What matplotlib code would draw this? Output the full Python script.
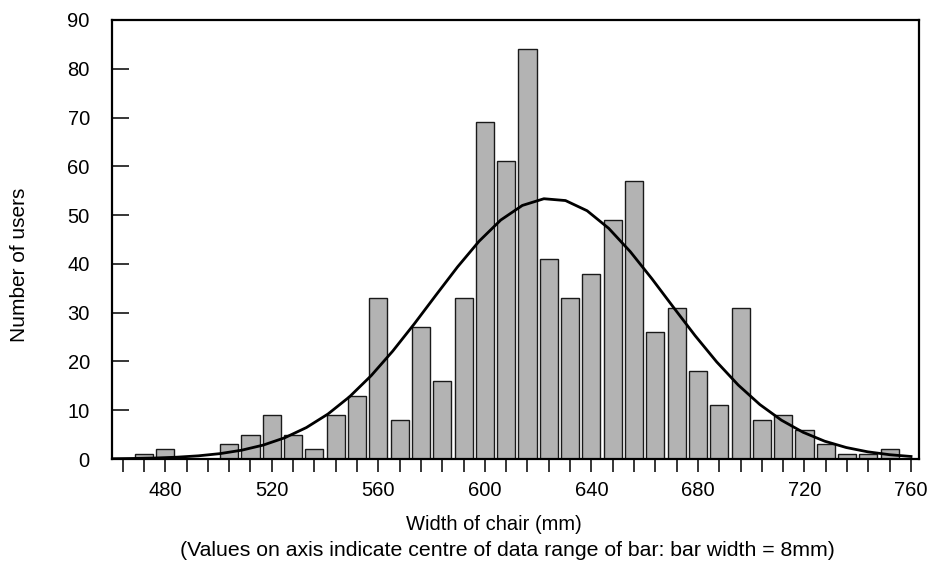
import numpy as np
import matplotlib
matplotlib.use("Agg")
import matplotlib.pyplot as plt

plt.rcParams['font.family'] = ['Liberation Sans', 'DejaVu Sans']

# bar centres (mm) and counts
bin_centres = [472, 480, 488, 496, 504, 512, 520, 528, 536, 544, 552, 560, 568,
               576, 584, 592, 600, 608, 616, 624, 632, 640, 648, 656, 664, 672,
               680, 688, 696, 704, 712, 720, 728, 736, 744, 752]
counts = [1, 2, 0, 0, 3, 5, 9, 5, 2, 9, 13, 33, 8,
          27, 16, 33, 69, 61, 84, 41, 33, 38, 49, 57, 26, 31,
          18, 11, 31, 8, 9, 6, 3, 1, 1, 2]

# fitted normal curve parameters
curve_mean = 624.5
curve_sd = 44.5
bin_width = 8

tick_positions = list(range(464, 761, 8))
tick_labels = [str(t) if t % 40 == 0 else '' for t in tick_positions]
y_ticks = [0, 10, 20, 30, 40, 50, 60, 70, 80, 90]

W, H = 927, 563
fig = plt.figure(figsize=(W / 100, H / 100), dpi=100)
ax = fig.add_axes([0.1208, 0.1847, 0.8706, 0.7798])

ax.bar(bin_centres, counts, width=6.8, color='#b3b3b3', edgecolor='#1a1a1a',
       linewidth=1.0, zorder=2)

n_total = sum(counts)
xc = np.linspace(460, 760, 38)
yc = n_total * bin_width / (curve_sd * np.sqrt(2 * np.pi)) * np.exp(-0.5 * ((xc - curve_mean) / curve_sd) ** 2)
ax.plot(xc, yc, color='black', linewidth=2.0, zorder=3)

ax.set_xlim(460, 763)
ax.set_ylim(0, 90)
ax.set_xticks(tick_positions)
ax.set_xticklabels(tick_labels)
ax.set_yticks(y_ticks)
ax.set_yticklabels([str(v) for v in y_ticks])

for s in ax.spines.values():
    s.set_linewidth(1.6)
    s.set_zorder(4)

ax.tick_params(axis='y', direction='in', length=12, width=1.1, pad=16, labelsize=14.5)
ax.tick_params(axis='x', direction='out', length=9, width=1.1, pad=7, labelsize=14.5)

fig.text(20 / W, 1 - 265 / H, 'Number of users', rotation=90, fontsize=15,
         ha='center', va='center')
fig.text(494 / W, 1 - 524 / H, 'Width of chair (mm)', fontsize=14.5,
         ha='center', va='center')
fig.text(507 / W, 1 - 550 / H,
         '(Values on axis indicate centre of data range of bar: bar width = 8mm)',
         fontsize=15.3, ha='center', va='center')

fig.savefig('out.png', dpi=100)
